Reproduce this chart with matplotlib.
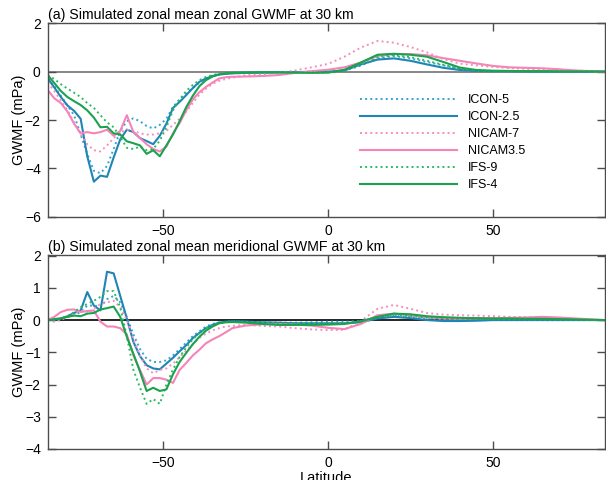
import numpy as np
import matplotlib
matplotlib.use("Agg")
import matplotlib.pyplot as plt

plt.rcParams['font.family'] = ['Liberation Sans', 'DejaVu Sans']

# latitude grid (deg)
lat = [-85, -83, -81, -79, -77, -75, -73, -71, -69, -67, -65, -63, -61, -59, -57,
       -55, -53, -51, -49, -47, -45, -43, -41, -39, -37, -35, -33, -31, -29,
       -25, -20, -15, -10, -5, 0, 5, 10, 15, 20, 25, 30, 35, 40, 45, 50, 55, 60,
       65, 70, 75, 80, 84]

# (a) zonal GWMF (mPa)
icon5_u = [-0.3, -0.6, -1.0, -1.4, -1.8, -2.6, -3.4, -4.1, -4.2, -3.9, -3.2, -2.45, -2.05, -1.93, -2.05,
           -2.25, -2.35, -2.2, -1.95, -1.45, -1.15, -0.9, -0.68, -0.45, -0.27, -0.16, -0.1, -0.07, -0.05,
           -0.04, -0.03, -0.02, -0.01, 0.0, 0.0, 0.04, 0.25, 0.55, 0.65, 0.55, 0.4, 0.26, 0.12, 0.05, 0.03,
           0.02, 0.02, 0.02, 0.01, 0.01, 0.01, 0.0]
icon25_u = [-0.27, -0.65, -1.05, -1.4, -1.62, -1.95, -3.5, -4.55, -4.3, -4.35, -3.55, -2.8, -2.4, -2.5, -2.75,
            -2.87, -3.0, -2.65, -2.15, -1.5, -1.25, -0.97, -0.68, -0.42, -0.28, -0.18, -0.12, -0.09, -0.07,
            -0.05, -0.04, -0.03, -0.02, -0.01, 0.0, 0.05, 0.3, 0.5, 0.55, 0.45, 0.3, 0.16, 0.07, 0.03, 0.02,
            0.02, 0.01, 0.01, 0.01, 0.01, 0.0, 0.0]
nicam7_u = [-0.45, -0.8, -1.2, -1.6, -2.1, -2.6, -3.0, -3.25, -3.3, -3.05, -2.75, -2.5, -2.4, -2.45, -2.55,
            -2.6, -2.6, -2.55, -2.45, -2.2, -1.95, -1.65, -1.3, -0.95, -0.7, -0.5, -0.38, -0.3, -0.25,
            -0.15, -0.1, -0.05, 0.05, 0.18, 0.32, 0.62, 1.0, 1.27, 1.2, 1.02, 0.8, 0.52, 0.33, 0.26, 0.2,
            0.15, 0.12, 0.08, 0.06, 0.04, 0.02, 0.01]
nicam35_u = [-0.76, -1.1, -1.3, -1.65, -2.15, -2.55, -2.5, -2.55, -2.5, -2.4, -2.65, -2.45, -1.8, -2.5, -2.75,
             -3.0, -3.2, -3.3, -3.1, -2.55, -2.13, -1.6, -1.15, -0.85, -0.63, -0.45, -0.28, -0.23, -0.21,
             -0.2, -0.18, -0.14, -0.05, 0.02, 0.08, 0.18, 0.38, 0.65, 0.73, 0.73, 0.68, 0.56, 0.45, 0.34, 0.24,
             0.18, 0.16, 0.14, 0.1, 0.05, 0.02, 0.01]
ifs9_u = [-0.15, -0.3, -0.52, -0.7, -0.87, -1.05, -1.3, -1.5, -1.8, -2.1, -2.3, -2.7, -3.15, -3.2, -3.1,
          -3.25, -3.2, -2.85, -2.3, -1.6, -1.15, -0.8, -0.55, -0.35, -0.22, -0.14, -0.09, -0.06, -0.05,
          -0.04, -0.03, -0.03, -0.03, -0.04, -0.03, 0.05, 0.3, 0.6, 0.68, 0.6, 0.45, 0.28, 0.12, 0.05, 0.03,
          0.02, 0.02, 0.02, 0.01, 0.01, 0.01, 0.0]
ifs4_u = [-0.14, -0.47, -0.8, -1.05, -1.22, -1.38, -1.6, -1.9, -2.3, -2.28, -2.55, -2.6, -2.88, -2.96, -3.05,
          -3.4, -3.25, -3.5, -3.05, -2.6, -2.05, -1.47, -1.0, -0.6, -0.35, -0.2, -0.11, -0.07, -0.05,
          -0.04, -0.03, -0.03, -0.04, -0.05, -0.04, 0.08, 0.38, 0.7, 0.74, 0.7, 0.62, 0.4, 0.17, 0.07, 0.04,
          0.03, 0.02, 0.02, 0.01, 0.01, 0.01, 0.0]

# (b) meridional GWMF (mPa)
icon5_v = [0.0, 0.0, 0.03, 0.1, 0.15, 0.25, 0.45, 0.45, 0.4, 0.65, 0.75, 0.55, 0.1, -0.45, -0.9,
           -1.2, -1.3, -1.3, -1.25, -1.1, -0.9, -0.7, -0.5, -0.35, -0.2, -0.12, -0.07, -0.05, -0.04,
           -0.05, -0.07, -0.08, -0.08, -0.07, -0.05, -0.05, -0.03, 0.1, 0.13, 0.1, 0.05, 0.02, 0.0, 0.0, 0.0,
           0.0, 0.0, 0.0, 0.0, 0.0, 0.0, 0.0]
icon25_v = [0.03, 0.03, 0.05, 0.12, 0.22, 0.3, 0.87, 0.45, 0.3, 1.5, 1.45, 0.75, 0.05, -0.68, -1.12,
            -1.4, -1.5, -1.53, -1.35, -1.17, -0.97, -0.78, -0.56, -0.4, -0.25, -0.15, -0.08, -0.05, -0.04,
            -0.05, -0.07, -0.08, -0.1, -0.1, -0.1, -0.1, -0.07, 0.05, 0.1, 0.06, 0.0, -0.03, -0.03, -0.02, 0.0,
            0.0, 0.0, 0.0, 0.0, 0.0, 0.0, 0.0]
nicam7_v = [0.0, -0.05, 0.0, 0.1, 0.2, 0.3, 0.2, 0.35, 0.5, 0.55, 0.6, 0.4, 0.0, -0.6, -1.1,
            -1.5, -1.65, -1.55, -1.5, -1.35, -1.15, -0.95, -0.75, -0.55, -0.42, -0.32, -0.25, -0.2, -0.18,
            -0.15, -0.18, -0.2, -0.25, -0.29, -0.31, -0.3, -0.03, 0.35, 0.47, 0.35, 0.22, 0.17, 0.15, 0.14, 0.12,
            0.1, 0.09, 0.07, 0.05, 0.03, 0.01, 0.0]
nicam35_v = [0.0, 0.1, 0.25, 0.32, 0.33, 0.25, 0.28, 0.3, -0.05, -0.2, -0.2, -0.25, -0.45, -1.1, -1.55,
             -2.0, -1.8, -1.8, -1.85, -1.95, -1.55, -1.33, -1.1, -0.92, -0.72, -0.6, -0.5, -0.38, -0.25,
             -0.17, -0.13, -0.12, -0.14, -0.17, -0.24, -0.28, -0.12, 0.15, 0.2, 0.15, 0.08, 0.05, 0.04, 0.05, 0.06,
             0.07, 0.08, 0.1, 0.08, 0.05, 0.02, 0.0]
ifs9_v = [0.0, 0.0, 0.05, 0.12, 0.25, 0.4, 0.5, 0.6, 0.72, 0.9, 0.9, 0.4, -0.5, -1.55, -2.1,
          -2.6, -2.45, -2.6, -2.0, -1.53, -1.15, -0.85, -0.6, -0.4, -0.25, -0.15, -0.09, -0.06, -0.05,
          -0.05, -0.07, -0.1, -0.1, -0.1, -0.1, -0.1, -0.05, 0.1, 0.15, 0.12, 0.08, 0.06, 0.05, 0.04, 0.03,
          0.03, 0.02, 0.02, 0.01, 0.01, 0.0, 0.0]
ifs4_v = [0.0, 0.02, 0.05, 0.1, 0.14, 0.12, 0.2, 0.22, 0.33, 0.37, 0.42, 0.1, -0.52, -1.05, -1.6,
          -2.2, -2.1, -2.2, -2.15, -1.68, -1.3, -1.02, -0.75, -0.52, -0.33, -0.2, -0.1, -0.07, -0.06,
          -0.08, -0.12, -0.15, -0.15, -0.15, -0.14, -0.12, -0.04, 0.1, 0.2, 0.18, 0.12, 0.09, 0.07, 0.06, 0.05,
          0.05, 0.04, 0.04, 0.03, 0.02, 0.01, 0.0]

labels = ['ICON-5', 'ICON-2.5', 'NICAM-7', 'NICAM3.5', 'IFS-9', 'IFS-4']
colors = ['#35a3d3', '#1f85b5', '#f78dbd', '#f584b8', '#2bbb5f', '#1aa24e']
styles = [':', '-', ':', '-', ':', '-']

fig = plt.figure(figsize=(6.06, 4.8), dpi=100)
ax1 = fig.add_axes([0.0787, 0.5485, 0.9196, 0.4029])
ax2 = fig.add_axes([0.0787, 0.0646, 0.9196, 0.4042])

for ax, series, zc in [(ax1, [icon5_u, icon25_u, nicam7_u, nicam35_u, ifs9_u, ifs4_u], '0.45'),
                       (ax2, [icon5_v, icon25_v, nicam7_v, nicam35_v, ifs9_v, ifs4_v], 'black')]:
    ax.axhline(0, color=zc, lw=1.2, zorder=1)
    for s, lab, c, ls in zip(series, labels, colors, styles):
        ax.plot(lat, s, ls, color=c, lw=1.5 if ls == '-' else 1.4, label=lab, zorder=2)
    ax.set_xlim(-85, 84)
    ax.set_xticks([-50, 0, 50])
    ax.tick_params(direction='in', top=True, right=True, length=6, width=1,
                   color='0.3', labelsize=10, pad=5)
    for sp in ax.spines.values():
        sp.set_color('0.3')
        sp.set_linewidth(1)
    ax.set_ylabel('GWMF (mPa)', fontsize=10.5, labelpad=-1)

ax1.set_ylim(-6, 2)
ax1.set_yticks([-6, -4, -2, 0, 2])
ax2.set_ylim(-4, 2.02)
ax2.set_yticks([-4, -3, -2, -1, 0, 1, 2])
ax2.set_xlabel('Latitude', fontsize=10.5, labelpad=1)

ax1.text(0, 1.005, '(a) Simulated zonal mean zonal GWMF at 30 km', transform=ax1.transAxes,
         fontsize=10.2, va='bottom', ha='left')
ax2.text(0, 1.005, '(b) Simulated zonal mean meridional GWMF at 30 km', transform=ax2.transAxes,
         fontsize=10.2, va='bottom', ha='left')

ax1.legend(loc='upper left', bbox_to_anchor=(0.56, 0.635), frameon=False, fontsize=9,
           handlelength=7.8, handletextpad=0.85, labelspacing=0.4, borderpad=0, borderaxespad=0)

fig.savefig('out.png', dpi=100)
